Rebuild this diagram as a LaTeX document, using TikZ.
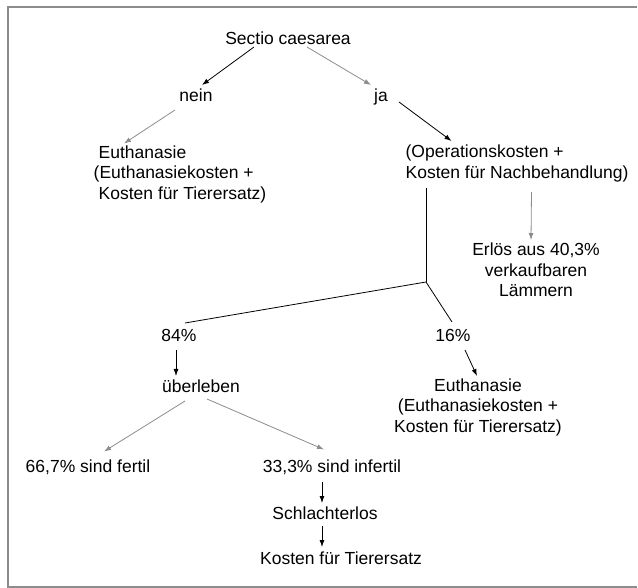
\documentclass[tikz,border=0pt]{standalone}
\usepackage{fontspec}
\setmainfont{Liberation Sans}
\usetikzlibrary{arrows.meta,calc}
\definecolor{strichgrau}{gray}{0.55}
\begin{document}
\begin{tikzpicture}[x=1pt,y=-1pt,
    txt/.style={inner sep=0pt,font=\fontsize{17.5}{20.5}\selectfont},
    pfeil/.style={-{Latex[length=7pt,width=5pt]},line width=0.8pt},
    grau/.style={pfeil,strichgrau}]
  \useasboundingbox (0,0) rectangle (638,588);
  \draw[strichgrau,line width=1.5pt] (637,7) -- (8,7) -- (8,587) -- (637,587);

  \node[txt] (sectio) at (288,38) {Sectio caesarea};
  \node[txt] (nein) at (196,95.5) {nein};
  \node[txt] (ja) at (381,97) {ja};
  \node[txt,align=left] (euth1) at (180,174)
    {\hspace*{5pt}Euthanasie\\(Euthanasiekosten +\\\hspace*{5pt}Kosten für Tierersatz)};
  \node[txt,align=left] (ops) at (517,163.5)
    {(Operationskosten +\\Kosten für Nachbehandlung)};
  \node[txt,align=center] (erloes) at (536,270)
    {Erlös aus 40,3\%\\verkaufbaren\\Lämmern};
  \node[txt] (p84) at (179,335) {84\%};
  \node[txt] (p16) at (453,335) {16\%};
  \node[txt] (ueber) at (201,386) {überleben};
  \node[txt,align=center] (euth2) at (478,407.4)
    {Euthanasie\\(Euthanasiekosten +\\Kosten für Tierersatz)};
  \node[txt] (fertil) at (88,467.5) {66,7\% sind fertil};
  \node[txt] (infertil) at (332,467.5) {33,3\% sind infertil};
  \node[txt] (schlacht) at (325,513) {Schlachterlos};
  \node[txt] (ersatz) at (341,558) {Kosten für Tierersatz};
  \coordinate (split) at (426,282);

  \draw[pfeil] ($(sectio)+(-34,9)$) -- ($(nein)+(6,-10.5)$);
  \draw[grau] ($(sectio)+(19,9)$) -- ($(ja)+(-10,-12)$);
  \draw[grau] ($(nein)+(-21,14.5)$) -- ($(euth1)+(-56,-30.5)$);
  \draw[pfeil] ($(ja)+(18,5)$) -- ($(ops)+(-65.5,-22.5)$);
  \draw[grau] ($(ops)+(14.5,28.5)$) -- ($(erloes)+(-5,-30)$);
  \draw[line width=0.8pt] ($(ops)+(-91,24.5)$) -- (split);
  \draw[line width=0.8pt] (split) -- ($(p84)+(6,-12)$);
  \draw[line width=0.8pt] (split) -- ($(p16)+(-1,-13)$);
  \draw[pfeil] ($(p84)+(-3,15)$) -- ($(ueber)+(-25,-10)$);
  \draw[pfeil] ($(p16)+(12,15)$) -- ($(euth2)+(-1,-31.4)$);
  \draw[grau] ($(ueber)+(-16,15)$) -- ($(fertil)+(16,-16)$);
  \draw[grau] ($(ueber)+(6,13)$) -- ($(infertil)+(-8,-18)$);
  \draw[pfeil] ($(infertil)+(-10,14)$) -- ($(schlacht)+(-3,-10)$);
  \draw[pfeil] ($(schlacht)+(-3,13)$) -- ($(ersatz)+(-19,-11)$);
\end{tikzpicture}
\end{document}
